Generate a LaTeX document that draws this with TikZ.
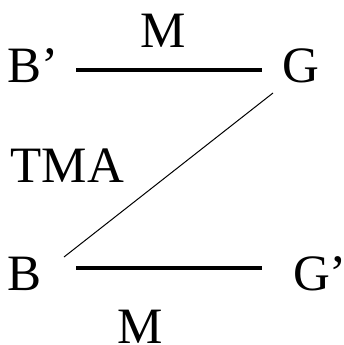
\documentclass[tikz,border=0pt]{standalone}
\usepackage{fontspec}
\setmainfont{Liberation Serif}
\begin{document}
\begin{tikzpicture}[x=1pt,y=-1pt,
  lbl/.style={inner sep=0pt,anchor=base,font=\fontsize{51}{55}\selectfont},
  bond/.style={line width=4pt},
  link/.style={line width=1pt}]
\useasboundingbox (0,0) rectangle (343,345);
\node[lbl] (Mtop) at (163.5,48) {M};
\node[lbl] (Bp) at (33,82) {B’};
\node[lbl] (G) at (300.5,82) {G};
\node[lbl] (TMA) at (67.5,182) {TMA};
\node[lbl] (B) at (25,290) {B};
\node[lbl] (Gp) at (320,290) {G’};
\node[lbl] (Mbot) at (140.5,343) {M};
\coordinate (a1) at (76,70);
\coordinate (a2) at (262,70);
\coordinate (b1) at (76,268);
\coordinate (b2) at (262,268);
\coordinate (d1) at (273,93);
\coordinate (d2) at (64,257);
\draw[bond] (a1) -- (a2);
\draw[bond] (b1) -- (b2);
\draw[link] (d1) -- (d2);
\end{tikzpicture}
\end{document}
